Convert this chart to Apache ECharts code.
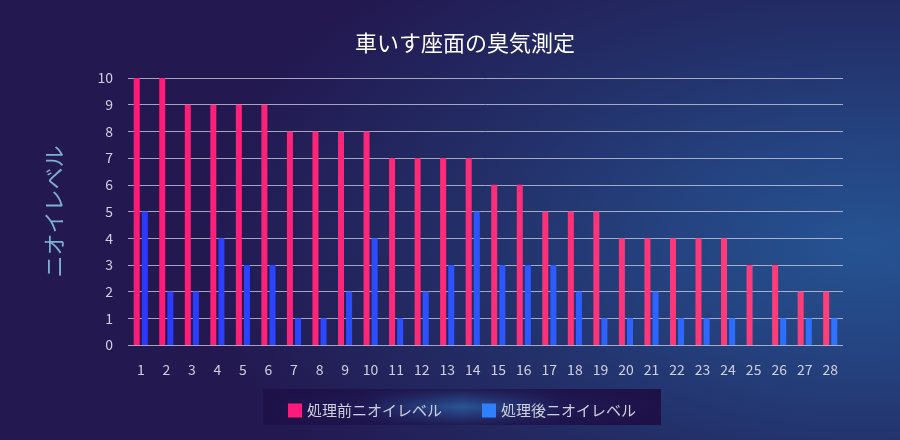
<!DOCTYPE html>
<html><head><meta charset="utf-8">
<script src="https://cdn.jsdelivr.net/npm/echarts@6/dist/echarts.min.js"></script>
<style>
html,body{margin:0;padding:0;}
#c{width:900px;height:440px;background:radial-gradient(ellipse 75% 85% at 96% 56%, #265392 0%, #24427f 30%, #232d66 62%, #231850 100%);}
</style></head>
<body><div id="c"></div>
<script>
const categories = ['1','2','3','4','5','6','7','8','9','10','11','12','13','14','15','16','17','18','19','20','21','22','23','24','25','26','27','28'];
const beforeValues = [10,10,9,9,9,9,8,8,8,8,7,7,7,7,6,6,5,5,5,4,4,4,4,4,3,3,2,2];
const afterValues = [5,2,2,4,3,3,1,1,2,4,1,2,3,5,3,3,3,2,1,1,2,1,1,1,0,1,1,1];
const yTicks = [0,1,2,3,4,5,6,7,8,9,10];
const seriesNames = ['処理前ニオイレベル','処理後ニオイレベル'];

const font = '"Noto Sans CJK JP", "Noto Sans", sans-serif';
const chart = echarts.init(document.getElementById('c'));
const gradPink = new echarts.graphic.LinearGradient(128,0,843,0,[{offset:0,color:'#ff1a78'},{offset:1,color:'#ff4079'}],true);
const gradBlue = new echarts.graphic.LinearGradient(128,0,843,0,[{offset:0,color:'#2a38ff'},{offset:1,color:'#2f74ff'}],true);
chart.setOption({
  backgroundColor:'transparent',
  title:{text:'車いす座面の臭気測定',left:350,top:27,textStyle:{color:'#ffffff',fontSize:22,fontWeight:'normal',fontFamily:font}},
  graphic:[
    {type:'rect',shape:{x:263,y:389,width:398,height:36},z:0,
      style:{fill:new echarts.graphic.LinearGradient(0,0,1,0,[{offset:0,color:'#1e1148'},{offset:0.25,color:'#1f1a55'},{offset:0.5,color:'#2a5596'},{offset:0.75,color:'#1f1a55'},{offset:1,color:'#1e1148'}])}},
    {type:'rect',shape:{x:263,y:389,width:398,height:36},z:1,
      style:{fill:new echarts.graphic.LinearGradient(0,0,0,1,[{offset:0,color:'rgba(30,17,72,0.85)'},{offset:0.5,color:'rgba(30,17,72,0)'},{offset:1,color:'rgba(30,17,72,0.85)'}])}}
  ],
  legend:{data:[{name:seriesNames[0],itemStyle:{color:'#ff1a7c'}},{name:seriesNames[1],itemStyle:{color:'#2f80ff'}}],
    left:283,top:398,itemWidth:14,itemHeight:14,itemGap:40,icon:'rect',z:5,
    textStyle:{color:'#d0d0dc',fontSize:15,fontFamily:font}},
  grid:{left:128,right:57,top:78,bottom:95},
  xAxis:{type:'category',data:categories,
    axisLine:{show:false},axisTick:{show:false},
    axisLabel:{color:'#d0d0dc',fontSize:14,margin:18,fontFamily:font}},
  yAxis:{type:'value',min:yTicks[0],max:yTicks[yTicks.length-1],interval:1,
    name:'ニオイレベル',nameLocation:'middle',nameGap:63,nameRotate:90,
    nameTextStyle:{color:'#7eaed0',fontSize:22,fontFamily:font},
    axisLine:{show:false},axisTick:{show:false},
    axisLabel:{color:'#d0d0dc',fontSize:14,margin:15,fontFamily:font},
    splitLine:{lineStyle:{color:'rgba(210,210,225,0.75)',width:1}}},
  series:[
    {name:seriesNames[0],type:'bar',data:beforeValues,barWidth:6,barGap:'35%',itemStyle:{color:gradPink}},
    {name:seriesNames[1],type:'bar',data:afterValues,barWidth:6,barGap:'35%',itemStyle:{color:gradBlue}}
  ]
});
</script></body></html>
